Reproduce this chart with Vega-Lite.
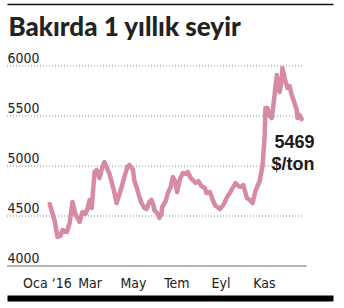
{
  "$schema": "https://vega.github.io/schema/vega-lite/v6.json",
  "autosize": {"type": "none"},
  "width": 326,
  "height": 200,
  "padding": {"left": 7, "top": 66, "right": 11, "bottom": 42},
  "background": "white",
  "config": {
    "view": {"stroke": null},
    "font": "DejaVu Sans Condensed, DejaVu Sans, sans-serif"
  },
  "resolve": {"axis": {"x": "independent"}},
  "layer": [
    {
      "data": {"values": [{"v": 4500}, {"v": 5000}, {"v": 5500}, {"v": 6000}]},
      "mark": {"type": "rule", "stroke": "#8a8a8a", "strokeWidth": 1, "strokeDash": [1, 2]},
      "encoding": {
        "x": {
          "datum": {"year": 2015, "month": 11, "date": 6},
          "type": "temporal",
          "scale": {"domain": [{"year": 2015, "month": 11, "date": 6}, {"year": 2017, "month": 2, "date": 6}]},
          "axis": {
            "orient": "top",
            "offset": 62,
            "labels": false,
            "ticks": false,
            "grid": false,
            "domain": true,
            "domainColor": "#111111",
            "domainWidth": 1.5,
            "title": "Bakırda 1 yıllık seyir",
            "titleFont": "Lato, Liberation Sans, sans-serif",
            "titleFontSize": 26,
            "titleFontWeight": 900,
            "titleColor": "#222222",
            "titleAlign": "left",
            "titleBaseline": "alphabetic",
            "titleAnchor": "start",
            "titleX": 1,
            "titleY": 31
          }
        },
        "x2": {"datum": {"year": 2016, "month": 12, "date": 27}},
        "y": {
          "field": "v",
          "type": "quantitative",
          "scale": {"domain": [4000, 6000], "zero": false, "nice": false},
          "axis": {
            "values": [4000, 4500, 5000, 5500, 6000],
            "format": "d",
            "orient": "left",
            "grid": false,
            "domain": false,
            "ticks": false,
            "tickSize": 0,
            "labelAlign": "left",
            "labelBaseline": "alphabetic",
            "labelPadding": 0,
            "labelOffset": -4,
            "labelFlush": false,
            "labelOverlap": false,
            "labelBound": false,
            "labelFontSize": 14,
            "labelColor": "#222222",
            "title": null
          }
        }
      }
    },
    {
      "data": {"values": [{"v": 4000}]},
      "mark": {"type": "rule", "stroke": "#6a6a6a", "strokeWidth": 1},
      "encoding": {
        "x": {"datum": {"year": 2015, "month": 11, "date": 6}, "type": "temporal", "axis": null},
        "x2": {"datum": {"year": 2016, "month": 12, "date": 31}},
        "y": {"field": "v", "type": "quantitative"}
      }
    },
    {
      "data": {"values": [
        {"date": "2016-01-05", "value": 4620},
        {"date": "2016-01-12", "value": 4450},
        {"date": "2016-01-16", "value": 4290},
        {"date": "2016-01-20", "value": 4300},
        {"date": "2016-01-23", "value": 4360},
        {"date": "2016-01-29", "value": 4340},
        {"date": "2016-02-02", "value": 4430},
        {"date": "2016-02-06", "value": 4640},
        {"date": "2016-02-10", "value": 4520},
        {"date": "2016-02-16", "value": 4440},
        {"date": "2016-02-20", "value": 4540},
        {"date": "2016-02-24", "value": 4520},
        {"date": "2016-02-27", "value": 4570},
        {"date": "2016-03-01", "value": 4660},
        {"date": "2016-03-04", "value": 4580},
        {"date": "2016-03-08", "value": 4940},
        {"date": "2016-03-11", "value": 4960},
        {"date": "2016-03-15", "value": 4880},
        {"date": "2016-03-19", "value": 4990},
        {"date": "2016-03-22", "value": 5040},
        {"date": "2016-03-26", "value": 4970},
        {"date": "2016-03-29", "value": 4920},
        {"date": "2016-04-04", "value": 4760},
        {"date": "2016-04-08", "value": 4630},
        {"date": "2016-04-12", "value": 4720},
        {"date": "2016-04-15", "value": 4790},
        {"date": "2016-04-19", "value": 4890},
        {"date": "2016-04-23", "value": 4990},
        {"date": "2016-04-26", "value": 5010},
        {"date": "2016-05-01", "value": 4960},
        {"date": "2016-05-03", "value": 4850},
        {"date": "2016-05-06", "value": 4790},
        {"date": "2016-05-10", "value": 4690},
        {"date": "2016-05-13", "value": 4630},
        {"date": "2016-05-17", "value": 4580},
        {"date": "2016-05-20", "value": 4570},
        {"date": "2016-05-24", "value": 4640},
        {"date": "2016-05-27", "value": 4660},
        {"date": "2016-05-30", "value": 4600},
        {"date": "2016-05-31", "value": 4560},
        {"date": "2016-06-05", "value": 4520},
        {"date": "2016-06-07", "value": 4480},
        {"date": "2016-06-10", "value": 4520},
        {"date": "2016-06-11", "value": 4590},
        {"date": "2016-06-16", "value": 4650},
        {"date": "2016-06-19", "value": 4730},
        {"date": "2016-06-23", "value": 4790},
        {"date": "2016-06-26", "value": 4890},
        {"date": "2016-06-29", "value": 4850},
        {"date": "2016-07-02", "value": 4740},
        {"date": "2016-07-06", "value": 4870},
        {"date": "2016-07-10", "value": 4930},
        {"date": "2016-07-14", "value": 4920},
        {"date": "2016-07-17", "value": 4940},
        {"date": "2016-07-21", "value": 4880},
        {"date": "2016-07-24", "value": 4860},
        {"date": "2016-07-28", "value": 4830},
        {"date": "2016-08-01", "value": 4850},
        {"date": "2016-08-05", "value": 4800},
        {"date": "2016-08-10", "value": 4780},
        {"date": "2016-08-12", "value": 4730},
        {"date": "2016-08-17", "value": 4740},
        {"date": "2016-08-21", "value": 4660},
        {"date": "2016-08-25", "value": 4600},
        {"date": "2016-08-28", "value": 4590},
        {"date": "2016-08-31", "value": 4570},
        {"date": "2016-09-04", "value": 4600},
        {"date": "2016-09-07", "value": 4640},
        {"date": "2016-09-11", "value": 4700},
        {"date": "2016-09-14", "value": 4730},
        {"date": "2016-09-18", "value": 4780},
        {"date": "2016-09-22", "value": 4830},
        {"date": "2016-09-26", "value": 4800},
        {"date": "2016-09-29", "value": 4790},
        {"date": "2016-10-03", "value": 4810},
        {"date": "2016-10-08", "value": 4680},
        {"date": "2016-10-12", "value": 4660},
        {"date": "2016-10-16", "value": 4630},
        {"date": "2016-10-20", "value": 4750},
        {"date": "2016-10-26", "value": 4850},
        {"date": "2016-10-30", "value": 5000},
        {"date": "2016-11-02", "value": 5300},
        {"date": "2016-11-03", "value": 5580},
        {"date": "2016-11-06", "value": 5580},
        {"date": "2016-11-09", "value": 5500},
        {"date": "2016-11-12", "value": 5480},
        {"date": "2016-11-15", "value": 5650},
        {"date": "2016-11-19", "value": 5910},
        {"date": "2016-11-22", "value": 5800},
        {"date": "2016-11-23", "value": 5740},
        {"date": "2016-11-26", "value": 5860},
        {"date": "2016-11-27", "value": 5980},
        {"date": "2016-11-30", "value": 5880},
        {"date": "2016-12-04", "value": 5780},
        {"date": "2016-12-07", "value": 5800},
        {"date": "2016-12-10", "value": 5710},
        {"date": "2016-12-13", "value": 5650},
        {"date": "2016-12-17", "value": 5560},
        {"date": "2016-12-18", "value": 5480},
        {"date": "2016-12-21", "value": 5510},
        {"date": "2016-12-24", "value": 5469}
      ]},
      "mark": {"type": "line", "stroke": "#d68aa3", "strokeWidth": 4.5, "strokeJoin": "round", "strokeCap": "round"},
      "encoding": {
        "x": {
          "field": "date",
          "type": "temporal",
          "axis": {
            "orient": "bottom",
            "offset": 32,
            "values": [
              {"year": 2016, "month": 1, "date": 1},
              {"year": 2016, "month": 3, "date": 1},
              {"year": 2016, "month": 5, "date": 1},
              {"year": 2016, "month": 7, "date": 1},
              {"year": 2016, "month": 9, "date": 1},
              {"year": 2016, "month": 11, "date": 1}
            ],
            "labelExpr": "month(datum.value) == 0 ? 'Oca \u201816' : ['Oca','Şub','Mar','Nis','May','Haz','Tem','Ağu','Eyl','Eki','Kas','Ara'][month(datum.value)]",
            "ticks": false,
            "tickSize": 0,
            "grid": false,
            "domain": true,
            "domainColor": "#000000",
            "domainWidth": 6,
            "labelPadding": -11,
            "labelBaseline": "alphabetic",
            "labelAlign": "center",
            "labelFlush": false,
            "labelOverlap": false,
            "labelBound": false,
            "labelFontSize": 14,
            "labelColor": "#222222",
            "title": null
          }
        },
        "y": {"field": "value", "type": "quantitative"}
      }
    },
    {
      "data": {"values": [
        {"t": "5469", "d": "2017-01-11", "v": 5180},
        {"t": "$/ton", "d": "2017-01-11", "v": 4960}
      ]},
      "mark": {"type": "text", "align": "right", "baseline": "alphabetic", "font": "Liberation Sans, Arial, sans-serif", "fontSize": 18, "fontWeight": "bold", "color": "#1a1a1a"},
      "encoding": {
        "x": {"field": "d", "type": "temporal", "axis": null},
        "y": {"field": "v", "type": "quantitative"},
        "text": {"field": "t"}
      }
    }
  ]
}
